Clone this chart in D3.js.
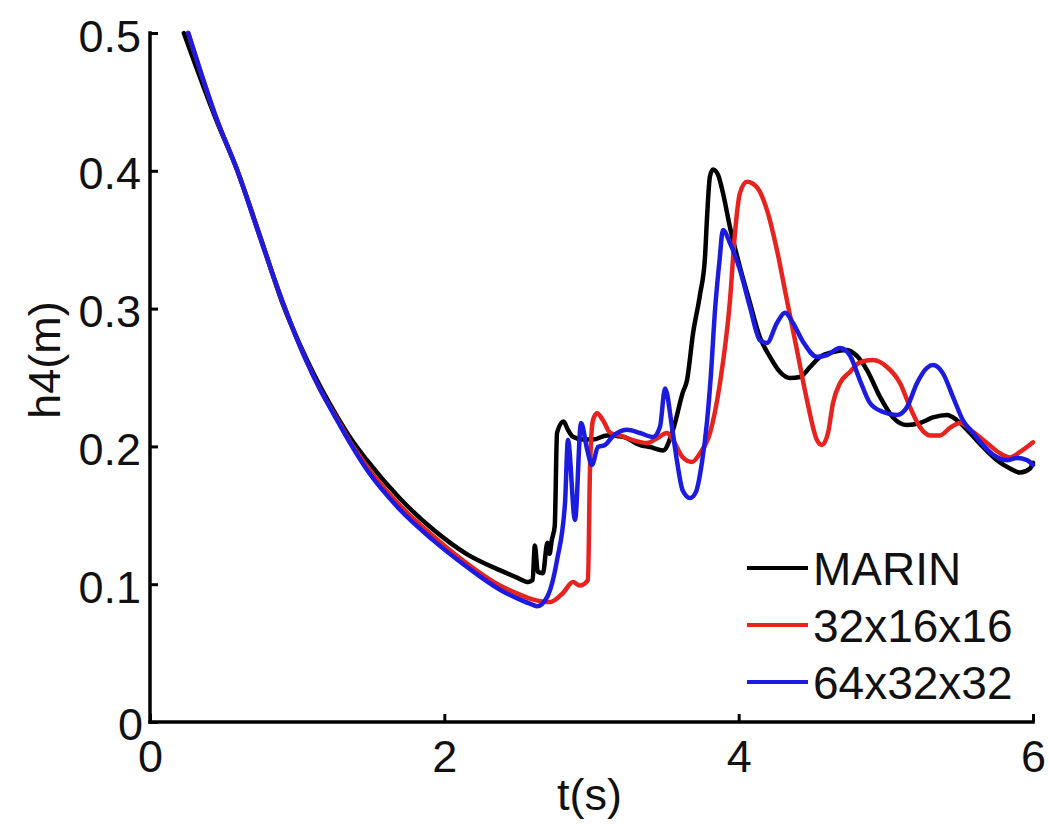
<!DOCTYPE html>
<html>
<head>
<meta charset="utf-8">
<script src="https://cdn.jsdelivr.net/npm/d3@7"></script>
<style>
  html, body { margin: 0; padding: 0; background: #fff; }
  svg { display: block; }
  text { font-family: "Liberation Sans", Arial, Helvetica, sans-serif; fill: #111; }
</style>
</head>
<body>
<svg id="chart" width="1049" height="826"></svg>
<script>
// Water height h4 at probe 4 over time: measurement vs two grid resolutions
const seriesNames = ["MARIN", "32x16x16", "64x32x32"];
const seriesColors = ["#000000", "#e8231e", "#1c1ce0"];

const xTicks = [0, 2, 4, 6];
const yTicks = [0, 0.1, 0.2, 0.3, 0.4, 0.5];
const yTickLabels = ["0", "0.1", "0.2", "0.3", "0.4", "0.5"];

// [t (s), h4 (m)]
const marin = [
  [0.23,0.5],[0.45,0.437],[0.59,0.401],[0.75,0.352],[0.90,0.304],[1.07,0.262],
  [1.27,0.222],[1.36,0.2065],[1.47,0.1905],[1.70,0.162],[1.92,0.140],[2.04,0.130],
  [2.15,0.122],[2.38,0.110],[2.49,0.105],[2.57,0.1016],[2.60,0.103],[2.615,0.128],
  [2.635,0.109],[2.67,0.108],[2.70,0.130],[2.715,0.122],[2.73,0.132],[2.75,0.142],
  [2.766,0.21],[2.81,0.218],[2.84,0.212],[2.874,0.207],[2.94,0.205],[3.01,0.205],
  [3.105,0.208],[3.214,0.207],[3.33,0.201],[3.40,0.1996],[3.486,0.197],[3.554,0.212],
  [3.62,0.239],[3.649,0.248],[3.69,0.282],[3.737,0.310],[3.771,0.337],
  [3.785,0.366],[3.805,0.396],[3.826,0.401],[3.86,0.397],[3.893,0.384],[3.941,0.359],
  [4.009,0.330],[4.077,0.304],[4.145,0.279],[4.213,0.265],[4.281,0.254],[4.349,0.2496],
  [4.417,0.2504],[4.485,0.2576],[4.553,0.265],[4.641,0.2685],[4.736,0.270],[4.80,0.266],
  [4.872,0.2554],[4.96,0.236],[5.049,0.221],[5.144,0.2155],[5.232,0.217],[5.32,0.221],
  [5.416,0.2228],[5.483,0.219],[5.572,0.2097],[5.66,0.1996],[5.755,0.190],[5.844,0.184],
  [5.912,0.181],[5.98,0.184],[6.0,0.188]
];

const grid32 = [
  [0.26,0.5],[0.455,0.437],[0.591,0.401],[0.747,0.352],[0.904,0.304],[1.067,0.261],
  [1.16,0.2405],[1.271,0.220],[1.359,0.2035],[1.474,0.1855],[1.699,0.157],[1.923,0.135],
  [2.154,0.115],[2.378,0.099],[2.50,0.093],[2.60,0.089],[2.718,0.087],[2.806,0.0936],
  [2.874,0.1016],[2.92,0.099],[2.976,0.103],[2.99,0.185],[3.01,0.219],[3.037,0.224],
  [3.078,0.219],[3.126,0.210],[3.19,0.208],[3.28,0.2046],[3.377,0.2025],[3.445,0.206],
  [3.513,0.2097],[3.554,0.2046],[3.62,0.192],[3.683,0.1887],[3.737,0.195],[3.805,0.2097],
  [3.873,0.246],[3.941,0.306],[3.975,0.355],[4.009,0.384],[4.057,0.392],[4.124,0.388],
  [4.192,0.3716],[4.26,0.3425],[4.328,0.306],[4.396,0.270],[4.464,0.2337],[4.532,0.2046],
  [4.566,0.201],[4.607,0.2097],[4.641,0.2315],[4.689,0.246],[4.756,0.254],[4.824,0.261],
  [4.913,0.2627],[5.008,0.2576],[5.096,0.246],[5.164,0.2286],[5.232,0.214],[5.3,0.208],
  [5.368,0.208],[5.436,0.2134],[5.504,0.217],[5.592,0.2105],[5.687,0.2025],[5.776,0.195],
  [5.844,0.192],[5.912,0.196],[6.0,0.203]
];

const grid64 = [
  [0.26,0.5],[0.455,0.437],[0.591,0.401],[0.747,0.352],[0.904,0.304],[1.067,0.261],
  [1.16,0.2405],[1.271,0.219],[1.359,0.2025],[1.474,0.183],[1.699,0.154],[1.923,0.132],
  [2.154,0.1125],[2.378,0.096],[2.50,0.0895],[2.602,0.085],[2.63,0.084],[2.70,0.091],
  [2.766,0.1176],[2.82,0.159],[2.84,0.2046],[2.888,0.1466],[2.929,0.217],[2.97,0.198],
  [3.003,0.1865],[3.044,0.1996],[3.092,0.201],[3.14,0.2068],[3.24,0.212],[3.33,0.2097],
  [3.418,0.2068],[3.465,0.214],[3.50,0.242],[3.547,0.214],[3.58,0.190],[3.62,0.168],
  [3.67,0.1625],[3.71,0.167],[3.75,0.188],[3.785,0.218],[3.81,0.25],[3.84,0.30],
  [3.87,0.335],[3.893,0.357],[3.941,0.3476],[4.009,0.328],[4.077,0.301],[4.145,0.277],
  [4.192,0.275],[4.26,0.2896],[4.315,0.297],[4.369,0.2896],[4.437,0.276],[4.532,0.265],
  [4.6,0.2663],[4.689,0.2714],[4.756,0.266],[4.824,0.248],[4.892,0.2315],[4.981,0.225],
  [5.076,0.2228],[5.144,0.2286],[5.212,0.246],[5.28,0.257],[5.32,0.259],[5.388,0.253],
  [5.456,0.236],[5.524,0.219],[5.592,0.2097],[5.66,0.201],[5.728,0.194],[5.823,0.190],
  [5.891,0.1916],[5.959,0.190],[6.0,0.1865]
];

const allSeries = [marin, grid32, grid64];

const svg = d3.select("#chart");
const margin = { left: 150, right: 16, top: 33, bottom: 104 };
const W = 1049, H = 826;

const x = d3.scaleLinear().domain([0, 6]).range([margin.left, W - margin.right]);
const y = d3.scaleLinear().domain([0, 0.5]).range([H - margin.bottom, margin.top]);

const fontSize = 45;

// Axes (MATLAB style: inward ticks, no box)
const xAxis = d3.axisBottom(x).tickValues(xTicks).tickSize(-8).tickPadding(18)
  .tickFormat(d3.format("d"));
const yAxis = d3.axisLeft(y).tickValues(yTicks).tickSize(-8).tickPadding(10)
  .tickFormat((d, i) => yTickLabels[i]);

const gx = svg.append("g").attr("transform", `translate(0,${y(0)})`).call(xAxis);
const gy = svg.append("g").attr("transform", `translate(${x(0)},0)`).call(yAxis);

[gx, gy].forEach(g => {
  g.select(".domain").attr("stroke", "#000").attr("stroke-width", 3.5)
    .attr("stroke-linecap", "square");
  g.selectAll(".tick line").attr("stroke", "#000").attr("stroke-width", 3);
  g.selectAll(".tick text").attr("font-size", fontSize)
    .attr("font-family", "Liberation Sans, Arial, sans-serif").attr("fill", "#111");
});
// domain paths without outer tick stubs
gx.select(".domain").attr("d", `M${x(0)},0H${x(6)}`);
gy.select(".domain").attr("d", `M0,${y(0)}V${y(0.5)}`);

gx.selectAll(".tick text").attr("dy", "0.72em");
gy.selectAll(".tick text").attr("dy", "0.4em").attr("x", -9);
// bottom-left "0" of the y axis sits slightly higher
gy.selectAll(".tick text").filter(d => d === 0).attr("dy", "0.38em").attr("x", -7);

// Axis titles
svg.append("text")
  .attr("x", (x(0) + x(6)) / 2 - 2)
  .attr("y", 810)
  .attr("text-anchor", "middle")
  .attr("font-size", fontSize)
  .text("t(s)");

svg.append("text")
  .attr("transform", `translate(60,${360}) rotate(-90)`)
  .attr("text-anchor", "middle")
  .attr("font-size", fontSize)
  .text("h4(m)");

// Curves
const line = d3.line()
  .x(d => x(d[0]))
  .y(d => y(d[1]))
  .curve(d3.curveMonotoneX);

svg.append("g").selectAll("path")
  .data(allSeries)
  .join("path")
  .attr("d", line)
  .attr("fill", "none")
  .attr("stroke", (d, i) => seriesColors[i])
  .attr("stroke-width", 4.5)
  .attr("stroke-linejoin", "round")
  .attr("stroke-linecap", "round");

// Legend
const legend = svg.append("g").attr("transform", "translate(747,568)");
const rowGap = 57;
const items = legend.selectAll("g").data(seriesNames).join("g")
  .attr("transform", (d, i) => `translate(0,${i * rowGap})`);
items.append("line")
  .attr("x1", 0).attr("x2", 61).attr("y1", 0).attr("y2", 0)
  .attr("stroke", (d, i) => seriesColors[i])
  .attr("stroke-width", 4);
items.append("text")
  .attr("x", 66).attr("y", 17)
  .attr("font-size", fontSize + 1)
  .text(d => d);
</script>
</body>
</html>
